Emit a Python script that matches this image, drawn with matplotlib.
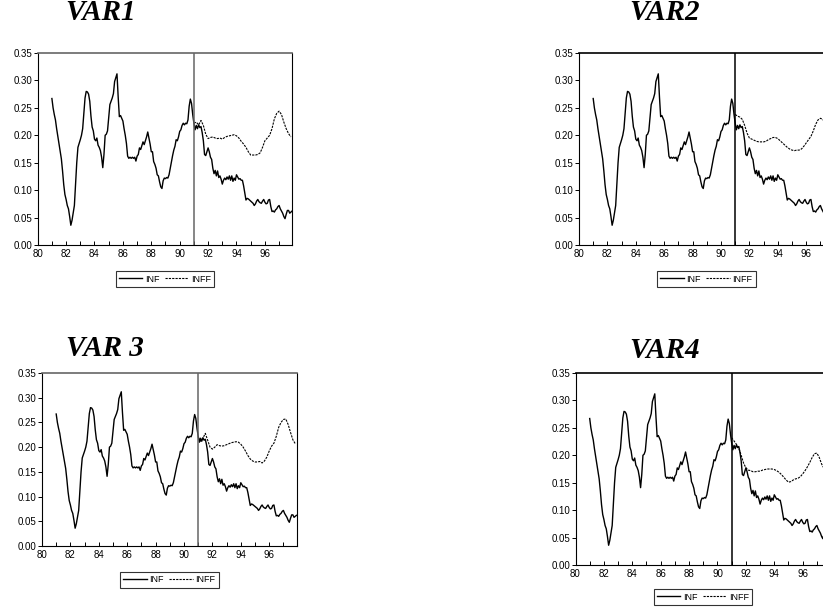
import numpy as np
import matplotlib
matplotlib.use("Agg")
import matplotlib.pyplot as plt
from matplotlib.ticker import MultipleLocator, FormatStrFormatter

# actual inflation, monthly 1981:01 - 1997:12
inf_81 = [0.267, 0.250, 0.238, 0.228, 0.212, 0.198, 0.183, 0.170, 0.157, 0.135, 0.110, 0.092]
inf_82 = [0.083, 0.072, 0.066, 0.052, 0.036, 0.045, 0.058, 0.072, 0.110, 0.150, 0.178, 0.185]
inf_83 = [0.192, 0.200, 0.212, 0.240, 0.268, 0.280, 0.279, 0.275, 0.262, 0.235, 0.215, 0.208]
inf_84 = [0.193, 0.190, 0.195, 0.182, 0.178, 0.172, 0.160, 0.141, 0.165, 0.200, 0.202, 0.208]
inf_85 = [0.232, 0.256, 0.262, 0.268, 0.276, 0.298, 0.305, 0.312, 0.270, 0.234, 0.236, 0.231]
inf_86 = [0.226, 0.212, 0.200, 0.185, 0.162, 0.158, 0.160, 0.158, 0.160, 0.158, 0.160, 0.153]
inf_87 = [0.162, 0.165, 0.177, 0.174, 0.181, 0.188, 0.183, 0.190, 0.197, 0.206, 0.195, 0.184]
inf_88 = [0.170, 0.170, 0.152, 0.147, 0.140, 0.128, 0.126, 0.115, 0.106, 0.103, 0.117, 0.122]
inf_89 = [0.121, 0.123, 0.122, 0.128, 0.140, 0.152, 0.163, 0.173, 0.180, 0.192, 0.190, 0.197]
inf_90 = [0.207, 0.210, 0.218, 0.222, 0.219, 0.222, 0.221, 0.228, 0.253, 0.266, 0.258, 0.238]
inf_91 = [0.222, 0.210, 0.218, 0.212, 0.219, 0.214, 0.216, 0.205, 0.190, 0.165, 0.163, 0.170]
inf_92 = [0.177, 0.170, 0.160, 0.156, 0.140, 0.130, 0.136, 0.126, 0.135, 0.123, 0.126, 0.120]
inf_93 = [0.111, 0.118, 0.122, 0.119, 0.124, 0.120, 0.126, 0.118, 0.126, 0.116, 0.122, 0.118]
inf_94 = [0.128, 0.124, 0.120, 0.121, 0.118, 0.118, 0.108, 0.095, 0.082, 0.085, 0.084, 0.082]
inf_95 = [0.080, 0.078, 0.076, 0.072, 0.075, 0.080, 0.083, 0.079, 0.077, 0.076, 0.080, 0.083]
inf_96 = [0.078, 0.075, 0.076, 0.082, 0.083, 0.070, 0.061, 0.062, 0.060, 0.064, 0.066, 0.070]
inf_97 = [0.072, 0.066, 0.062, 0.058, 0.052, 0.048, 0.056, 0.063, 0.063, 0.058, 0.060, 0.062]
inf = (inf_81 + inf_82 + inf_83 + inf_84 + inf_85 + inf_86 + inf_87 + inf_88 + inf_89
       + inf_90 + inf_91 + inf_92 + inf_93 + inf_94 + inf_95 + inf_96 + inf_97)
inf_dates = 81 + np.arange(len(inf)) / 12

# out-of-sample forecasts, every two months from 1991:01
inff_var1 = [0.222, 0.224, 0.219, 0.227, 0.218, 0.202, 0.194, 0.196, 0.197, 0.195, 0.194, 0.195,
             0.193, 0.196, 0.198, 0.199, 0.200, 0.201, 0.199, 0.195, 0.189, 0.184, 0.178, 0.170,
             0.164, 0.164, 0.164, 0.165, 0.168, 0.178, 0.190, 0.195, 0.200, 0.212, 0.230, 0.240,
             0.244, 0.238, 0.224, 0.212, 0.203, 0.197]
inff_var2 = [0.238, 0.235, 0.233, 0.229, 0.218, 0.204, 0.195, 0.193, 0.191, 0.189, 0.188, 0.188,
             0.188, 0.189, 0.192, 0.194, 0.196, 0.196, 0.194, 0.190, 0.186, 0.182, 0.178, 0.175,
             0.173, 0.172, 0.173, 0.173, 0.175, 0.180, 0.186, 0.192, 0.198, 0.208, 0.220, 0.228,
             0.231, 0.229, 0.222, 0.214, 0.207, 0.202]
inff_var3 = [0.220, 0.212, 0.218, 0.228, 0.214, 0.200, 0.196, 0.200, 0.205, 0.203, 0.202, 0.203,
             0.205, 0.207, 0.209, 0.210, 0.211, 0.210, 0.206, 0.200, 0.192, 0.183, 0.176, 0.172,
             0.170, 0.170, 0.171, 0.168, 0.172, 0.180, 0.192, 0.202, 0.208, 0.222, 0.240, 0.250,
             0.256, 0.257, 0.246, 0.230, 0.215, 0.207]
inff_var4 = [0.232, 0.226, 0.220, 0.213, 0.200, 0.186, 0.177, 0.173, 0.172, 0.170, 0.170, 0.171,
             0.171, 0.173, 0.174, 0.175, 0.175, 0.175, 0.174, 0.172, 0.169, 0.165, 0.160, 0.155,
             0.151, 0.152, 0.155, 0.157, 0.158, 0.161, 0.166, 0.172, 0.179, 0.187, 0.196, 0.203,
             0.204, 0.196, 0.184, 0.176, 0.172, 0.170]
inff_dates = 91 + np.arange(len(inff_var1)) / 6

W, H = 823, 607
fig = plt.figure(figsize=(W / 100, H / 100), dpi=100)


def add_box(x0, y0, x1, y1):
    # pixel box measured from the top-left corner
    return fig.add_axes([x0 / W, 1 - y1 / H, (x1 - x0) / W, (y1 - y0) / H])


panels = [
    ("VAR1", inff_var1, (37.7, 53, 292.3, 245), (101, 13), 279, "#666666"),
    ("VAR2", inff_var2, (579, 53, 833.6, 245), (665, 13), 279, "black"),
    ("VAR 3", inff_var3, (42, 373, 296.6, 546), (105, 348), 580, "#666666"),
    ("VAR4", inff_var4, (575.5, 373, 830.1, 565), (665, 350), 597, "black"),
]

for title, inff, box, tpos, leg_y, split_col in panels:
    ax = add_box(*box)
    ax.plot(inf_dates, inf, color="black", lw=1.0, label="INF")
    ax.plot(inff_dates, inff, color="black", lw=0.8, ls=(0, (2, 1)), label="INFF")
    ax.axvline(91, color=split_col, lw=1.1)
    ax.set_xlim(80, 97.93)
    ax.set_ylim(0, 0.35)
    ax.xaxis.set_major_locator(MultipleLocator(2))
    ax.xaxis.set_minor_locator(MultipleLocator(1))
    ax.xaxis.set_major_formatter(FormatStrFormatter("%d"))
    ax.yaxis.set_major_locator(MultipleLocator(0.05))
    ax.yaxis.set_major_formatter(FormatStrFormatter("%.2f"))
    ax.tick_params(axis="x", which="both", direction="in", length=3, width=0.7,
                   labelsize=7, pad=3)
    ax.tick_params(axis="y", direction="out", length=3, width=0.7, labelsize=7, pad=1)
    for lab in ax.get_xticklabels() + ax.get_yticklabels():
        lab.set_fontfamily("Liberation Sans")
    ax.spines["top"].set_color(split_col)
    ax.spines["top"].set_linewidth(1.2)
    ax.spines["left"].set_linewidth(0.8)
    ax.spines["bottom"].set_linewidth(0.8)
    ax.spines["right"].set_linewidth(0.8)

    cx = (box[0] + box[2]) / 2
    leg = ax.legend(loc="center", bbox_to_anchor=(cx / W, 1 - leg_y / H),
                    bbox_transform=fig.transFigure, ncol=2, frameon=True,
                    fancybox=False, edgecolor="black",
                    prop={"family": "Liberation Sans", "size": 6.5},
                    handlelength=2.6, handletextpad=0.3, columnspacing=0.6,
                    borderpad=0.35, borderaxespad=0)
    leg.get_frame().set_linewidth(0.8)

    fig.text(tpos[0] / W, 1 - tpos[1] / H, title, ha="center", va="center",
             fontfamily="Liberation Serif", fontstyle="italic", fontweight="bold",
             fontsize=21)

fig.savefig("out.png", dpi=100)
